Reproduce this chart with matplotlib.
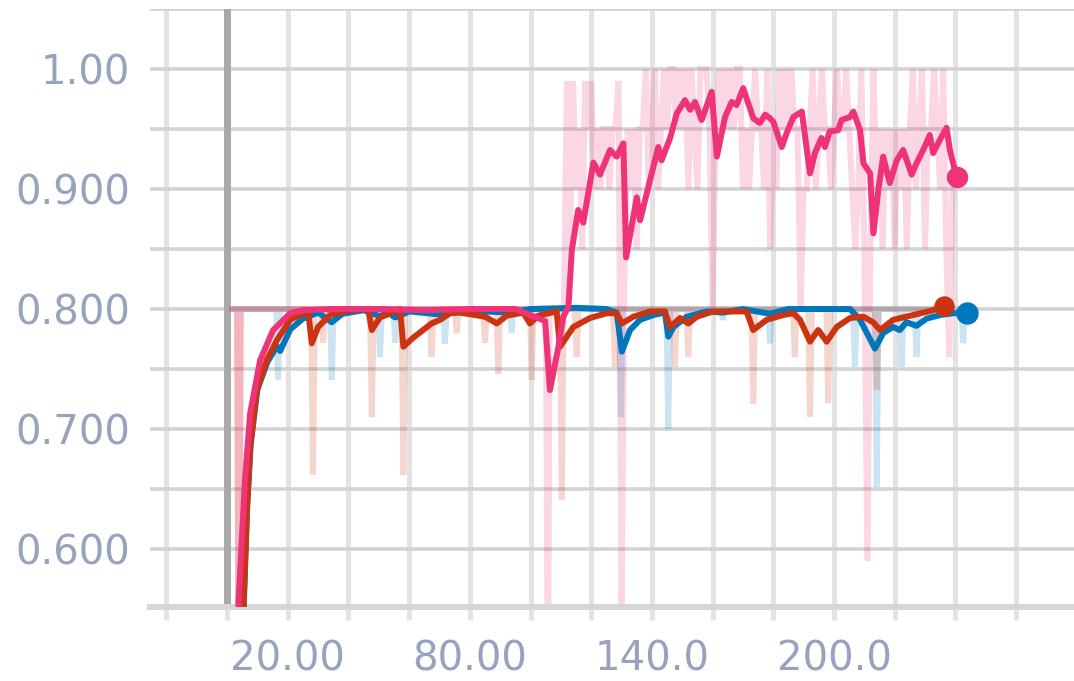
import numpy as np
import matplotlib
matplotlib.use("Agg")
import matplotlib.pyplot as plt

# smoothed curves
pink_x = [3.2, 3.7, 5.9, 7.6, 10.9, 15.2, 20.8, 25.0, 35.0, 50.0, 65.0, 80.0, 95.0, 104.8, 106.4, 109.2, 110.8, 112.5,
          113.6, 115.7, 117.4, 120.7, 122.9, 126.2, 128.4, 130.6, 131.5, 135.0, 136.1, 139.4, 142.1, 143.2, 146.0, 148.2,
          150.9, 152.6, 154.2, 156.4, 159.7, 161.4, 164.1, 166.3, 167.9, 170.1, 173.4, 175.6, 177.3, 178.9, 180.0, 182.8,
          184.4, 186.6, 189.4, 192.1, 193.7, 195.9, 197.0, 198.6, 201.4, 202.5, 205.3, 206.4, 208.6, 209.7, 211.9, 213.0,
          214.6, 216.2, 218.4, 220.7, 222.8, 225.6, 227.2, 229.4, 231.6, 232.7, 234.9, 237.1, 238.2, 240.4]
pink_y = [0.48, 0.552, 0.6575, 0.713, 0.7575, 0.7825, 0.7965, 0.799, 0.800, 0.800, 0.799, 0.800, 0.800, 0.790, 0.7325,
          0.7686, 0.7936, 0.802, 0.849, 0.8825, 0.872, 0.922, 0.912, 0.9325, 0.927, 0.938, 0.843, 0.893, 0.874, 0.9075,
          0.935, 0.924, 0.9425, 0.963, 0.974, 0.966, 0.9725, 0.9575, 0.981, 0.927, 0.960, 0.9725, 0.970, 0.984, 0.959,
          0.955, 0.962, 0.959, 0.956, 0.935, 0.9465, 0.960, 0.9645, 0.913, 0.930, 0.9425, 0.935, 0.948, 0.949, 0.9575,
          0.960, 0.9645, 0.949, 0.9215, 0.913, 0.863, 0.899, 0.927, 0.905, 0.924, 0.9325, 0.912, 0.9215, 0.9325, 0.945,
          0.930, 0.941, 0.951, 0.9325, 0.910]

red_x = [4.8, 5.4, 6.5, 7.6, 9.8, 13.1, 16.4, 20.8, 25.1, 26.7, 27.9, 30.0, 33.9, 40.5, 46.5, 47.7, 50.4, 55.4, 57.0,
         58.1, 61.3, 64.6, 67.4, 70.2, 73.5, 76.8, 85.0, 88.9, 92.2, 97.6, 99.8, 102.6, 108.6, 109.7, 114.1, 119.6, 125.1,
         128.4, 130.1, 133.9, 139.4, 144.3, 146.0, 149.3, 152.0, 154.8, 160.2, 171.2, 173.4, 177.8, 183.3, 186.6, 188.8,
         192.1, 194.8, 197.6, 200.9, 205.3, 209.7, 212.9, 215.2, 219.5, 226.1, 232.7, 236.3]
red_y = [0.46, 0.552, 0.63, 0.685, 0.7325, 0.7575, 0.774, 0.791, 0.7965, 0.799, 0.7715, 0.785, 0.795, 0.799, 0.800,
         0.7825, 0.793, 0.798, 0.800, 0.7686, 0.776, 0.7825, 0.788, 0.791, 0.7965, 0.797, 0.7936, 0.788, 0.7945, 0.797,
         0.788, 0.7945, 0.798, 0.7686, 0.785, 0.7925, 0.7965, 0.7965, 0.788, 0.7936, 0.798, 0.798, 0.785, 0.7925, 0.788,
         0.7936, 0.798, 0.798, 0.7825, 0.791, 0.795, 0.7965, 0.791, 0.7728, 0.7825, 0.7728, 0.785, 0.7925, 0.7936, 0.789,
         0.7825, 0.791, 0.795, 0.799, 0.8025]

blue_x = [4.9, 5.5, 6.6, 7.8, 10.0, 13.3, 16.4, 17.5, 20.8, 25.0, 30.0, 34.5, 38.0, 45.0, 50.4, 53.0, 55.4, 60.0, 71.8,
          76.0, 93.8, 100.0, 115.0, 125.0, 128.4, 130.1, 132.8, 136.1, 140.5, 144.3, 145.4, 147.1, 151.5, 158.1, 163.4,
          170.0, 178.9, 185.0, 205.3, 208.6, 213.5, 216.2, 219.5, 221.7, 223.9, 227.2, 230.5, 235.0, 239.3, 243.7]
blue_y = [0.46, 0.552, 0.635, 0.688, 0.733, 0.756, 0.769, 0.765, 0.783, 0.792, 0.797, 0.789, 0.796, 0.799, 0.794, 0.797,
          0.793, 0.798, 0.795, 0.799, 0.797, 0.800, 0.801, 0.800, 0.797, 0.7645, 0.7825, 0.791, 0.795, 0.797, 0.777,
          0.785, 0.7936, 0.798, 0.797, 0.800, 0.796, 0.800, 0.800, 0.791, 0.767, 0.780, 0.785, 0.7825, 0.789, 0.786,
          0.792, 0.795, 0.7965, 0.7965]

# raw values: flat at 0.80 with downward spikes
red_dip_x = [3.9, 28.3, 31.6, 47.7, 58.1, 67.4, 75.7, 85.0, 89.4, 100.4, 110.3, 115.2, 127.8, 147.6, 152.0, 173.4,
             187.1, 192.1, 198.1, 214.1]
red_dip_y = [0.40, 0.662, 0.772, 0.71, 0.662, 0.76, 0.78, 0.772, 0.746, 0.741, 0.641, 0.76, 0.752, 0.752, 0.76, 0.721,
             0.76, 0.71, 0.7215, 0.7325]
blue_dip_x = [16.8, 34.5, 50.4, 55.4, 71.8, 93.8, 129.8, 145.4, 163.4, 178.9, 206.9, 214.1, 222.3, 227.2, 242.6]
blue_dip_y = [0.741, 0.741, 0.76, 0.772, 0.771, 0.78, 0.71, 0.70, 0.791, 0.7715, 0.752, 0.652, 0.752, 0.76, 0.7715]
pink_dip_x = [3.9, 105.7]
pink_dip_y = [0.40, 0.45]
# pink raw after it takes off, one value per step from 112 to 239
pink_raw = [0.99, 0.85, 0.99, 0.90, 0.95, 0.85, 0.99, 0.95,
            0.99, 0.90, 0.95, 0.90, 0.95, 0.95, 0.90, 0.95, 0.95, 0.99,
            0.55, 0.85, 0.95, 0.90, 0.95, 0.85, 0.95, 0.95, 1.0, 0.90,
            0.95, 1.0, 0.90, 0.95, 1.0, 0.95, 1.0, 1.0, 0.95, 1.0,
            0.95, 1.0, 0.90, 1.0, 0.95, 0.90, 1.0, 1.0, 1.0, 0.95,
            0.80, 0.95, 1.0, 0.95, 1.0, 0.95, 1.0, 0.95, 1.0, 1.0,
            0.90, 0.95, 0.90, 0.95, 1.0, 0.95, 0.95, 0.90, 1.0, 0.85,
            0.95, 0.90, 1.0, 0.95, 1.0, 0.95, 1.0, 0.95, 0.95, 0.80,
            0.90, 0.90, 0.95, 1.0, 0.90, 0.95, 1.0, 0.95, 0.95, 0.90,
            0.95, 1.0, 0.95, 0.95, 1.0, 0.95, 0.90, 0.85, 0.90, 1.0,
            0.85, 0.59, 0.85, 1.0, 0.90, 0.95, 0.85, 0.95, 0.90, 0.95,
            0.85, 0.95, 0.90, 0.95, 0.85, 0.95, 1.0, 0.90, 0.95, 1.0,
            0.85, 0.95, 0.95, 1.0, 0.95, 0.90, 1.0, 0.85, 0.76, 0.90]

x_ticks = [20, 80, 140, 200]
x_labels = ["20.00", "80.00", "140.0", "200.0"]
y_ticks = [0.6, 0.7, 0.8, 0.9, 1.0]
y_labels = ["0.600", "0.700", "0.800", "0.900", "1.00"]

BLUE = "#0077bb"
RED = "#cc3311"
PINK = "#ee3377"
PX = 0.72  # points per pixel at dpi 100


def spiky(x0, x1, dip_x, dip_y, base=0.80, half=0.6):
    xs = [x0]
    ys = [base]
    for dx, dy in zip(dip_x, dip_y):
        xs += [dx - half, dx, dx + half]
        ys += [base, dy, base]
    xs.append(x1)
    ys.append(base)
    return xs, ys


fig = plt.figure(figsize=(10.74, 6.81), dpi=100)
ax = fig.add_axes([150 / 1074, 1 - 607 / 681, 924 / 1074, 598 / 681])

#RAW LINES (faint)
px_, py_ = spiky(1.6, 111.0, pink_dip_x, pink_dip_y)
px_ += list(np.arange(112, 112 + len(pink_raw)))
py_ += pink_raw
rx_, ry_ = spiky(1.6, 236.3, red_dip_x, red_dip_y)
bx_, by_ = spiky(2.5, 243.7, blue_dip_x, blue_dip_y)
ax.plot(bx_, by_, color=BLUE, alpha=0.2, lw=6 * PX, solid_joinstyle="miter", zorder=2)
ax.plot(rx_, ry_, color=RED, alpha=0.2, lw=6 * PX, solid_joinstyle="miter", zorder=2)
ax.plot(px_, py_, color=PINK, alpha=0.2, lw=6 * PX, solid_joinstyle="miter", zorder=2)

#SMOOTHED LINES
ax.plot(blue_x, blue_y, color=BLUE, lw=6 * PX, zorder=4)
ax.plot(red_x, red_y, color=RED, lw=6 * PX, zorder=5)
ax.plot(pink_x, pink_y, color=PINK, lw=6 * PX, zorder=6)
ax.plot(blue_x[-1], blue_y[-1], "o", color=BLUE, ms=21 * PX, zorder=7)
ax.plot(red_x[-1], red_y[-1], "o", color=RED, ms=19 * PX, zorder=6)
ax.plot(pink_x[-1], pink_y[-1], "o", color=PINK, ms=20 * PX, zorder=7)

ax.set_xlim(-25.4, 279.1)
ax.set_ylim(0.5517, 1.05)

ax.set_xticks(x_ticks)
ax.set_xticklabels(x_labels)
ax.set_xticks(list(range(-20, 261, 20)), minor=True)
ax.set_yticks(y_ticks)
ax.set_yticklabels(y_labels)
ax.set_yticks([0.65, 0.75, 0.85, 0.95, 1.05], minor=True)

ax.grid(which="both", axis="x", color="#e3e3e3", lw=5 * PX, zorder=0)
ax.grid(which="both", axis="y", color="#d3d3d3", lw=3.6 * PX, zorder=0)
ax.axvline(0, color="#a9a9a9", lw=7 * PX, zorder=1)
ax.set_axisbelow(True)

for s in ["top", "right", "left"]:
    ax.spines[s].set_visible(False)
ax.spines["bottom"].set_color("#d6d6d6")
ax.spines["bottom"].set_linewidth(6 * PX)

ax.tick_params(axis="x", which="both", length=13 * PX, width=5 * PX, color="#e3e3e3",
               labelsize=29, labelcolor="#97a3be", pad=14)
ax.tick_params(axis="y", which="both", length=0, labelsize=29, labelcolor="#97a3be", pad=20 * PX)

fig.savefig("out.png", dpi=100)
